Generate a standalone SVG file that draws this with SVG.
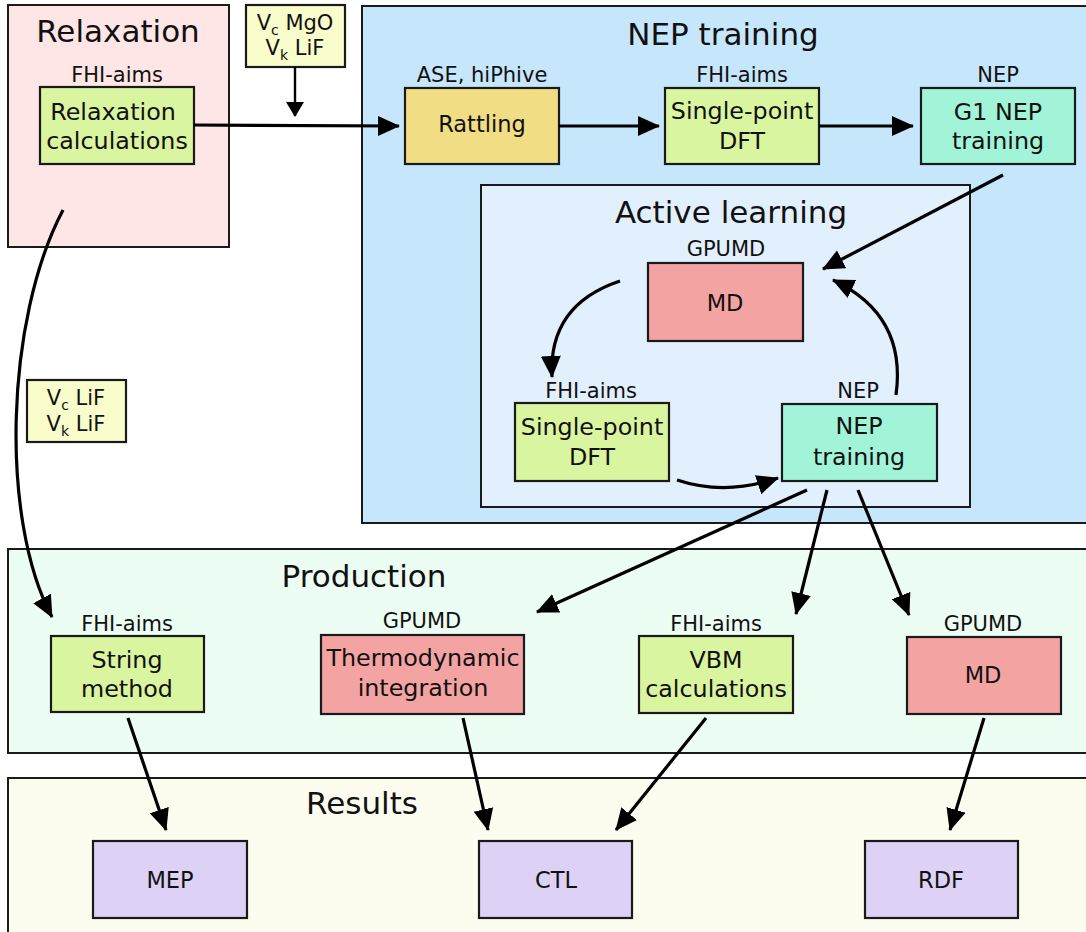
<svg xmlns="http://www.w3.org/2000/svg" width="1086" height="932" viewBox="0 0 1086 932">
<defs>
<style>
text{font-family:"DejaVu Sans","Liberation Sans",sans-serif;fill:#111;text-anchor:middle}
.panel{stroke:#1a1a1a;stroke-width:2}
.box{stroke:#1a1a1a;stroke-width:2.2}
.title{font-size:31px}
.lbl{font-size:21px}
.txt{font-size:23.8px}
.one{font-size:22.5px}
.sub{font-size:14px}
.green{fill:#d9f5a0}
.yellow{fill:#f1dd84}
.mint{fill:#a1f4d8}
.red{fill:#f4a3a3}
.purple{fill:#ddd1f6}
.note{fill:#f9fdcb}
.conn{fill:none;stroke:#000;stroke-width:3.2;marker-end:url(#ah)}
.conn2{fill:none;stroke:#000;stroke-width:2.4;marker-end:url(#ahs)}
</style>
<marker id="ah" markerUnits="userSpaceOnUse" markerWidth="22" markerHeight="22" viewBox="0 0 22 20" refX="21" refY="10" orient="auto">
<path d="M0,0 L22,10 L0,20 z" fill="#000"/>
</marker>
<marker id="ahs" markerUnits="userSpaceOnUse" markerWidth="18" markerHeight="18" viewBox="0 0 15 18" refX="14" refY="9" orient="auto">
<path d="M0,0 L15,9 L0,18 z" fill="#000"/>
</marker>
</defs>

<g id="panels">
<g id="panel-relaxation">
<rect class="panel" x="8" y="5" width="221" height="242" fill="#fee6e6"/>
<text class="title" x="118" y="42">Relaxation</text>
</g>
<g id="panel-nep">
<rect class="panel" x="362" y="6" width="730" height="517" fill="#c5e6fb"/>
<text class="title" x="723" y="45">NEP training</text>
</g>
<g id="panel-active">
<rect class="panel" x="481" y="185" width="489" height="322" fill="#e2effd"/>
<text class="title" x="731" y="223">Active learning</text>
</g>
<g id="panel-production">
<rect class="panel" x="8" y="549" width="1084" height="204" fill="#ecfdf3"/>
<text class="title" x="364" y="587">Production</text>
</g>
<g id="panel-results">
<rect class="panel" x="8" y="778" width="1084" height="160" fill="#fcfdef"/>
<text class="title" x="362" y="814">Results</text>
</g>
</g>

<g id="nodes">
<g id="relax-calc">
<text class="lbl" x="117" y="82">FHI-aims</text>
<rect class="box green" x="40" y="87" width="154" height="77"/>
<text class="txt" x="113" y="120">Relaxation</text>
<text class="txt" x="117" y="149">calculations</text>
</g>
<g id="note-mgo">
<rect class="box note" x="246" y="5" width="99" height="62"/>
<text class="lbl" x="295" y="30">V<tspan class="sub" dy="5">c</tspan><tspan dy="-5"> MgO</tspan></text>
<text class="lbl" x="295" y="55">V<tspan class="sub" dy="5">k</tspan><tspan dy="-5"> LiF</tspan></text>
</g>
<g id="rattling">
<text class="lbl" x="482" y="82">ASE, hiPhive</text>
<rect class="box yellow" x="405" y="88" width="154" height="76"/>
<text class="one" x="482" y="132">Rattling</text>
</g>
<g id="sp-dft-1">
<text class="lbl" x="742" y="82">FHI-aims</text>
<rect class="box green" x="665" y="88" width="154" height="76"/>
<text class="txt" x="742" y="119">Single-point</text>
<text class="txt" x="742" y="149">DFT</text>
</g>
<g id="g1-nep">
<text class="lbl" x="998" y="82">NEP</text>
<rect class="box mint" x="921" y="88" width="154" height="76"/>
<text class="txt" x="998" y="120">G1 NEP</text>
<text class="txt" x="998" y="149">training</text>
</g>
<g id="md-al">
<text class="lbl" x="726" y="256">GPUMD</text>
<rect class="box red" x="648" y="263" width="155" height="78"/>
<text class="one" x="725" y="311">MD</text>
</g>
<g id="sp-dft-2">
<text class="lbl" x="591" y="398">FHI-aims</text>
<rect class="box green" x="515" y="403" width="154" height="78"/>
<text class="txt" x="592" y="435">Single-point</text>
<text class="txt" x="592" y="465">DFT</text>
</g>
<g id="nep-train">
<text class="lbl" x="858" y="398">NEP</text>
<rect class="box mint" x="782" y="404" width="155" height="77"/>
<text class="txt" x="859" y="434">NEP</text>
<text class="txt" x="859" y="465">training</text>
</g>
<g id="note-lif">
<rect class="box note" x="27" y="380" width="99" height="62"/>
<text class="lbl" x="76" y="405">V<tspan class="sub" dy="5">c</tspan><tspan dy="-5"> LiF</tspan></text>
<text class="lbl" x="76" y="431">V<tspan class="sub" dy="5">k</tspan><tspan dy="-5"> LiF</tspan></text>
</g>
<g id="string">
<text class="lbl" x="127" y="631">FHI-aims</text>
<rect class="box green" x="51" y="636" width="153" height="76"/>
<text class="txt" x="127" y="668">String</text>
<text class="txt" x="127" y="697">method</text>
</g>
<g id="ti">
<text class="lbl" x="422" y="628">GPUMD</text>
<rect class="box red" x="321" y="635" width="203" height="79"/>
<text class="txt" x="423" y="666">Thermodynamic</text>
<text class="txt" x="423" y="696">integration</text>
</g>
<g id="vbm">
<text class="lbl" x="716" y="631">FHI-aims</text>
<rect class="box green" x="639" y="636" width="154" height="77"/>
<text class="txt" x="716" y="668">VBM</text>
<text class="txt" x="716" y="697">calculations</text>
</g>
<g id="md-prod">
<text class="lbl" x="983" y="631">GPUMD</text>
<rect class="box red" x="907" y="637" width="154" height="77"/>
<text class="one" x="983" y="683">MD</text>
</g>
<g id="mep">
<rect class="box purple" x="93" y="841" width="154" height="77"/>
<text class="one" x="170" y="888">MEP</text>
</g>
<g id="ctl">
<rect class="box purple" x="479" y="841" width="153" height="77"/>
<text class="one" x="556" y="888">CTL</text>
</g>
<g id="rdf">
<rect class="box purple" x="865" y="841" width="153" height="77"/>
<text class="one" x="941" y="888">RDF</text>
</g>
</g>

<g id="connectors">
<path class="conn2" d="M295,67 L295,116"/>
<path class="conn" d="M194,125 L399,126"/>
<path class="conn" d="M559,126 L659,126"/>
<path class="conn" d="M819,126 L913,126"/>
<path class="conn" d="M1003,175 L823,269"/>
<path class="conn" d="M620,281 Q548,305 552,377"/>
<path class="conn" d="M896,395 Q907,315 833,280"/>
<path class="conn" d="M677,480 Q725,496 778,478"/>
<path class="conn" d="M807,490 L537,612"/>
<path class="conn" d="M827,490 L796,614"/>
<path class="conn" d="M858,490 L909,615"/>
<path class="conn" d="M63,210 C5,320 0,520 52,617"/>
<path class="conn" d="M128,718 L166,830"/>
<path class="conn" d="M463,718 L488,830"/>
<path class="conn" d="M706,718 L616,830"/>
<path class="conn" d="M984,718 L950,830"/>
</g>
</svg>
